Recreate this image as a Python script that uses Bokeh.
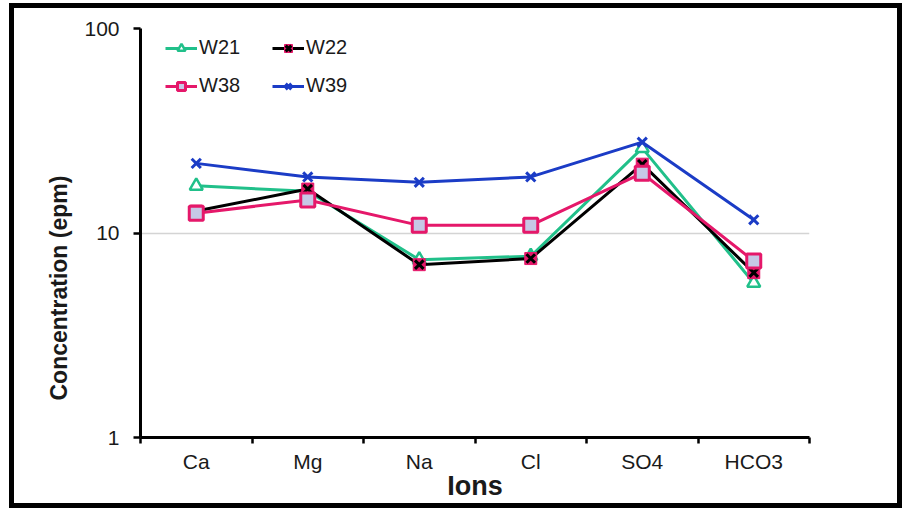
from bokeh.plotting import figure
from bokeh.models import (Range1d, FixedTicker, CustomJSTickFormatter, NumeralTickFormatter,
                          Legend, LegendItem, Title)
from bokeh.embed import file_html
from bokeh.resources import INLINE

# Major ion concentrations (epm) for four wells
ions = ["Ca", "Mg", "Na", "Cl", "SO4", "HCO3"]
w21 = [17.0, 16.0, 7.4, 7.7, 26.0, 5.7]
w22 = [12.8, 16.4, 7.0, 7.5, 21.7, 6.4]
w38 = [12.5, 14.5, 10.9, 10.9, 19.6, 7.3]
w39 = [21.9, 18.8, 17.7, 18.8, 27.8, 11.6]
y_ticks = [1, 10, 100]

FONT = "Liberation Sans"
GREEN = "#21c08a"
CRIMSON = "#e5186a"
BLUE = "#1b3cc6"
LAVENDER = "#c6c8e6"
TEXT = "#1a1a1a"

# categories sit at the centre of unit-wide slots
xs = [i + 0.5 for i in range(len(ions))]

p = figure(width=893, height=505, output_backend="svg", toolbar_location=None,
           x_range=Range1d(0, len(ions)), y_range=Range1d(1, 100), y_axis_type="log",
           min_border_left=126, min_border_right=98, min_border_top=20, min_border_bottom=76)
p.margin = (3, 0, 0, 9)
p.styles = {"border": "5px solid black"}
p.outline_line_color = None
p.background_fill_color = "white"
p.border_fill_color = "white"

# grid
p.xgrid.visible = False
p.ygrid.ticker = FixedTicker(ticks=y_ticks)
p.ygrid.grid_line_color = "#d4d4d4"
p.ygrid.grid_line_width = 1.5

# x axis: labels at slot centres, tick marks at slot boundaries
xa = p.xaxis[0]
xa.ticker = FixedTicker(ticks=xs, minor_ticks=list(range(len(ions) + 1)))
xa.formatter = CustomJSTickFormatter(args=dict(names=ions), code="return names[Math.floor(tick)];")
xa.major_tick_line_color = None
xa.minor_tick_line_color = "black"
xa.minor_tick_line_width = 2.5
xa.minor_tick_out = 6
xa.minor_tick_in = 0
xa.axis_line_width = 3
xa.axis_line_color = "black"
xa.major_label_text_font = FONT
xa.major_label_text_font_size = "21px"
xa.major_label_text_color = TEXT
xa.major_label_standoff = 6
xa.axis_label = "Ions"
xa.axis_label_text_font = FONT
xa.axis_label_text_font_style = "bold"
xa.axis_label_text_font_size = "27px"
xa.axis_label_text_color = TEXT
xa.axis_label_standoff = -5

# y axis
ya = p.yaxis[0]
ya.ticker = FixedTicker(ticks=y_ticks)
ya.formatter = NumeralTickFormatter(format="0")
ya.minor_tick_line_color = None
ya.major_tick_line_color = "black"
ya.major_tick_line_width = 2.5
ya.major_tick_out = 7
ya.major_tick_in = 0
ya.axis_line_width = 3
ya.axis_line_color = "black"
ya.major_label_text_font = FONT
ya.major_label_text_font_size = "21px"
ya.major_label_text_color = TEXT
ya.major_label_standoff = 14

# vertical axis title, anchored from the bottom of the frame
p.add_layout(Title(text="Concentration (epm)", align="left", offset=37,
                   text_font=FONT, text_font_size="23px", text_font_style="bold",
                   text_color=TEXT, standoff=20), "left")

LW = 3
# W21
l21 = p.line(xs, w21, line_color=GREEN, line_width=LW)
m21 = p.scatter(xs, w21, marker="triangle", size=13, fill_color="white",
                line_color=GREEN, line_width=2.5)
# W22
l22 = p.line(xs, w22, line_color="black", line_width=LW)
s22 = p.scatter(xs, w22, marker="square", size=12, fill_color=CRIMSON, line_color=CRIMSON)
m22 = p.scatter(xs, w22, marker="x", size=12, line_color="black", line_width=3)
# W38
l38 = p.line(xs, w38, line_color=CRIMSON, line_width=LW)
m38 = p.scatter(xs, w38, marker="square", size=14, fill_color=LAVENDER,
                line_color=CRIMSON, line_width=3)
# W39
l39 = p.line(xs, w39, line_color=BLUE, line_width=LW)
m39 = p.scatter(xs, w39, marker="x", size=13, line_color=BLUE, line_width=3)

# two-column legend, filled column by column
legend = Legend(items=[
    LegendItem(label="W21", renderers=[l21, m21]),
    LegendItem(label="W38", renderers=[l38, m38]),
    LegendItem(label="W22", renderers=[l22, s22, m22]),
    LegendItem(label="W39", renderers=[l39, m39]),
], ncols=2, location=(25, 340), padding=0, margin=0, spacing=15,
    glyph_width=32, glyph_height=20, label_height=20, label_width=58, label_standoff=2,
    label_text_font=FONT, label_text_font_size="20px", label_text_color=TEXT,
    background_fill_alpha=0, border_line_color=None)
p.add_layout(legend, "center")

open("out.html", "w").write(file_html(p, INLINE))
